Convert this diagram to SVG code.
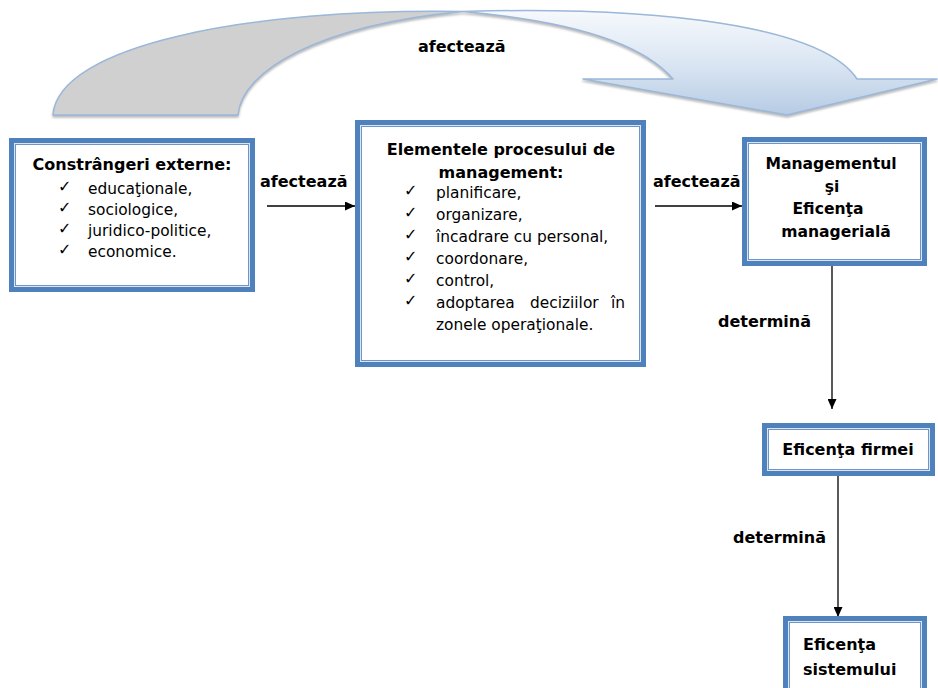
<svg xmlns="http://www.w3.org/2000/svg" width="938" height="688" viewBox="0 0 938 688">
  <defs>
    <style>
      text { font-family: "DejaVu Sans", "Noto Sans", sans-serif; fill: #000; }
      .b { font-weight: bold; font-size: 16px; }
      .b15 { font-weight: bold; font-size: 15.6px; }
      .r { font-size: 15.4px; }
      .ck { font-size: 16px; }
      .frame { fill: #dce6f2; stroke: #4f81bd; stroke-width: 5; }
      .inner { fill: #ffffff; stroke: #6f94c8; stroke-width: 1; }
      .conn { stroke: #000; stroke-width: 1.3; fill: none; marker-end: url(#head); }
      .band { stroke: #9bb7d9; stroke-width: 1.5; stroke-linejoin: round; }
    </style>
    <marker id="head" markerUnits="userSpaceOnUse" markerWidth="10" markerHeight="9" refX="10" refY="4.5" orient="auto">
      <path d="M0,0 L10,4.5 L0,9 Z" fill="#000"/>
    </marker>
    <linearGradient id="blueFill" x1="0" y1="0" x2="0" y2="1">
      <stop offset="0" stop-color="#f6f9fc"/>
      <stop offset="0.5" stop-color="#dbe6f3"/>
      <stop offset="1" stop-color="#b6cbe4"/>
    </linearGradient>
    <filter id="shade" x="-5%" y="-10%" width="110%" height="130%">
      <feDropShadow dx="0" dy="2" stdDeviation="1" flood-color="#7f7f7f" flood-opacity="0.55"/>
    </filter>
  </defs>

  <!-- curved arrow across the top -->
  <g id="curved-arrow" filter="url(#shade)">
    <path class="band" fill="#d0d0d0" d="M53,115 C58,45 250,8 463,11.5 C320,25 242,70 238,115 Z"/>
    <path class="band" fill="url(#blueFill)" d="M463,11.5 C660,6 822,26 857,79 L937,79 L787,115 L583,79 L673,79 C640,40 560,20 463,11.5 Z"/>
  </g>
  <text class="b" x="418" y="52">afectează</text>

  <!-- connectors -->
  <g id="connectors">
    <line class="conn" x1="267" y1="206" x2="355" y2="206"/>
    <line class="conn" x1="655" y1="206" x2="742" y2="206"/>
    <line class="conn" x1="832" y1="266" x2="832" y2="409"/>
    <line class="conn" x1="838" y1="476" x2="838" y2="617"/>
    <text class="b" x="260" y="187">afectează</text>
    <text class="b" x="653" y="187">afectează</text>
    <text class="b" x="718" y="327">determină</text>
    <text class="b" x="733" y="543">determină</text>
  </g>

  <!-- external constraints -->
  <g id="constrangeri">
    <rect class="frame" x="11.5" y="140.5" width="241" height="149"/>
    <rect class="inner" x="15.5" y="144.5" width="233" height="141"/>
    <text class="b" x="132" y="170" text-anchor="middle">Constrângeri externe:</text>
    <g class="ck">
      <text x="58" y="192">✓</text>
      <text x="58" y="213">✓</text>
      <text x="58" y="234">✓</text>
      <text x="58" y="255">✓</text>
    </g>
    <text class="r" x="88" y="194">educaţionale,</text>
    <text class="r" x="88" y="215">sociologice,</text>
    <text class="r" x="88" y="236">juridico-politice,</text>
    <text class="r" x="88" y="257">economice.</text>
  </g>

  <!-- management process elements -->
  <g id="elemente">
    <rect class="frame" x="357.5" y="122.5" width="286" height="242"/>
    <rect class="inner" x="361.5" y="126.5" width="278" height="234"/>
    <text class="b" x="501" y="155" text-anchor="middle">Elementele procesului de</text>
    <text class="b" x="501" y="178" text-anchor="middle">management:</text>
    <g class="ck">
      <text x="404" y="196">✓</text>
      <text x="404" y="218">✓</text>
      <text x="404" y="240">✓</text>
      <text x="404" y="262">✓</text>
      <text x="404" y="284">✓</text>
      <text x="404" y="306">✓</text>
    </g>
    <text class="r" x="436" y="198">planificare,</text>
    <text class="r" x="436" y="220">organizare,</text>
    <text class="r" x="436" y="242">încadrare cu personal,</text>
    <text class="r" x="436" y="264">coordonare,</text>
    <text class="r" x="436" y="286">control,</text>
    <text class="r" y="308"><tspan x="436">adoptarea</tspan><tspan x="530">deciziilor</tspan><tspan x="625" text-anchor="end">în</tspan></text>
    <text class="r" x="436" y="330">zonele operaţionale.</text>
  </g>

  <!-- management and managerial efficiency -->
  <g id="management">
    <rect class="frame" x="744.5" y="139.5" width="180" height="124"/>
    <rect class="inner" x="748.5" y="143.5" width="172" height="116"/>
    <text class="b15" x="831" y="169" text-anchor="middle">Managementul</text>
    <text class="b15" x="832" y="192" text-anchor="middle">şi</text>
    <text class="b15" x="828" y="214" text-anchor="middle">Eficenţa</text>
    <text class="b15" x="836" y="237" text-anchor="middle">managerială</text>
  </g>

  <!-- firm efficiency -->
  <g id="eficenta-firmei">
    <rect class="frame" x="764.5" y="425.5" width="168" height="48"/>
    <rect class="inner" x="768.5" y="429.5" width="160" height="40"/>
    <text class="b" x="848" y="455" text-anchor="middle">Eficenţa firmei</text>
  </g>

  <!-- system efficiency -->
  <g id="eficenta-sistemului">
    <rect class="frame" x="785.5" y="618.5" width="139" height="80"/>
    <rect class="inner" x="789.5" y="622.5" width="131" height="72"/>
    <text class="b" x="803" y="650">Eficenţa</text>
    <text class="b" x="803" y="675">sistemului</text>
  </g>
</svg>
